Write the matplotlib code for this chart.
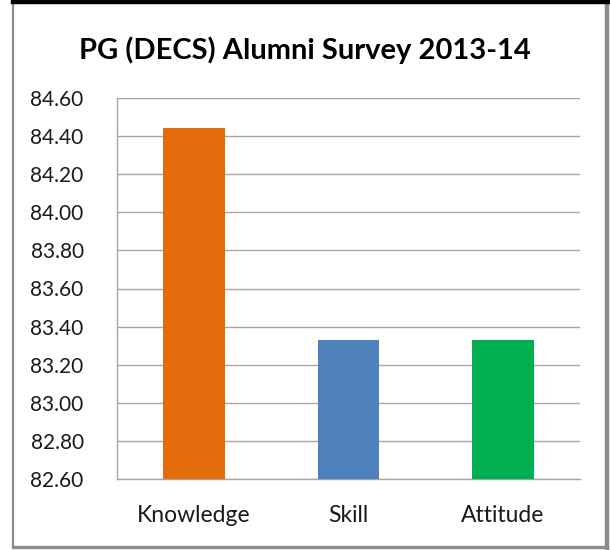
import matplotlib
matplotlib.use("Agg")
import matplotlib.pyplot as plt
from matplotlib.lines import Line2D

categories = ["Knowledge", "Skill", "Attitude"]
scores = [84.44, 83.33, 83.33]
bar_colors = ["#E46C0A", "#4F81BD", "#00B050"]
y_ticks = [82.60, 82.80, 83.00, 83.20, 83.40, 83.60, 83.80, 84.00, 84.20, 84.40, 84.60]
title = "PG (DECS) Alumni Survey 2013-14"

plt.rcParams["font.family"] = ["Lato", "DejaVu Sans"]

W, H = 610, 550
fig = plt.figure(figsize=(W / 100, H / 100), dpi=100)
fig.patch.set_facecolor("white")


def fx(px):
    return px / W


def fy(py):
    return 1 - py / H


# outer chart frame
fig.add_artist(Line2D([fx(13), fx(13)], [fy(5), fy(546.5)], color="#8c8c8c", lw=1.6))
fig.add_artist(Line2D([fx(13), fx(607)], [fy(546.5), fy(546.5)], color="#8c8c8c", lw=2.4))
fig.add_artist(Line2D([fx(606.5), fx(606.5)], [fy(4), fy(548)], color="#8c8c8c", lw=3.2))
fig.add_artist(Line2D([fx(13), fx(610)], [fy(2), fy(2)], color="black", lw=3.2))

ax = fig.add_axes([fx(117), fy(479), fx(580) - fx(117), fy(98) - fy(479)])
x = range(len(categories))
ax.bar(x, scores, width=0.4, color=bar_colors, zorder=3)
ax.set_ylim(82.60, 84.60)
ax.set_xlim(-0.5, len(categories) - 0.5)
ax.set_yticks(y_ticks)
ax.set_yticklabels([f"{v:.2f}" for v in y_ticks], fontsize=15, color="#1a1a1a")
ax.set_xticks(list(x))
ax.set_xticklabels(categories, fontsize=16.5, color="#1a1a1a")
ax.tick_params(axis="both", length=0)
ax.tick_params(axis="y", pad=24)
ax.tick_params(axis="x", pad=19)
ax.grid(axis="y", color="#a6a6a6", lw=1.0, zorder=0)
for side in ["top", "right"]:
    ax.spines[side].set_visible(False)
for side in ["left", "bottom"]:
    ax.spines[side].set_color("#a6a6a6")
    ax.spines[side].set_linewidth(1.0)

fig.text(0.5, fy(50), title, ha="center", va="center", fontsize=21, fontweight="bold", color="black")

fig.savefig("out.png", dpi=100)
